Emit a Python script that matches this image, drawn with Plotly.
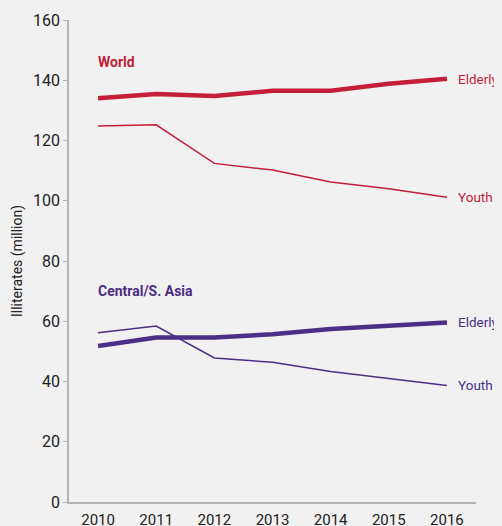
import plotly.graph_objects as go

years = [2010, 2011, 2012, 2013, 2014, 2015, 2016]
world_elderly = [134.0, 135.4, 134.8, 136.5, 136.5, 138.8, 140.5]
world_youth = [124.8, 125.2, 112.4, 110.2, 106.2, 104.0, 101.2]
csa_elderly = [51.8, 54.6, 54.6, 55.7, 57.4, 58.5, 59.6]
csa_youth = [56.2, 58.4, 47.8, 46.4, 43.3, 41.0, 38.7]
y_ticks = [0, 20, 40, 60, 80, 100, 120, 140, 160]

RED = "#c41e3a"
PURPLE = "#4b2e85"
FONT = "Roboto, sans-serif"
BG = "#f1f1f1"

fig = go.Figure()
series = [
    (world_elderly, RED, 4.5, "Elderly"),
    (world_youth, RED, 1.5, "Youth"),
    (csa_elderly, PURPLE, 4.5, "Elderly"),
    (csa_youth, PURPLE, 1.5, "Youth"),
]
for vals, col, w, name in series:
    fig.add_trace(go.Scatter(x=years, y=vals, mode="lines",
                             line=dict(color=col, width=w), name=name,
                             showlegend=False, hoverinfo="skip",
                             cliponaxis=False))
    fig.add_annotation(x=years[-1], y=vals[-1], xref="x", yref="y",
                       text=name, showarrow=False, xanchor="left",
                       xshift=9, font=dict(family=FONT, size=13.5, color=col))

fig.add_annotation(x=years[0], y=146, xref="x", yref="y", text="<b>World</b>",
                   showarrow=False, xanchor="left", xshift=-2,
                   font=dict(family=FONT, size=14, color=RED))
fig.add_annotation(x=years[0], y=70, xref="x", yref="y",
                   text="<b>Central/S. Asia</b>", showarrow=False,
                   xanchor="left", xshift=-2,
                   font=dict(family=FONT, size=14, color=PURPLE))
fig.add_annotation(x=0, y=0.5, xref="paper", yref="paper",
                   text="Illiterates (million)", textangle=-90,
                   showarrow=False, xanchor="center", yanchor="middle",
                   xshift=-52, font=dict(family=FONT, size=14, color="#222222"))

fig.update_layout(
    width=494, height=518,
    margin=dict(l=61, r=26, t=12, b=24, autoexpand=False),
    paper_bgcolor=BG, plot_bgcolor=BG,
    font=dict(family=FONT, size=15, color="#222222"),
    xaxis=dict(range=[2009.5, 2016.5], tickvals=years,
               ticktext=[str(y) for y in years], showgrid=False,
               zeroline=False, showline=True, linecolor="#b4b4b4",
               linewidth=1.5, ticks="", tickfont=dict(size=15),
               ticklabelstandoff=3, automargin=False),
    yaxis=dict(range=[0, 160], tickvals=y_ticks, showgrid=False,
               zeroline=False, showline=True, linecolor="#b4b4b4",
               linewidth=1.5, ticks="outside", ticklen=4,
               tickcolor="#b4b4b4", tickfont=dict(size=16),
               automargin=False),
)

fig.write_html("out.html",
               post_script="document.body.style.background='#f1f1f1';")
